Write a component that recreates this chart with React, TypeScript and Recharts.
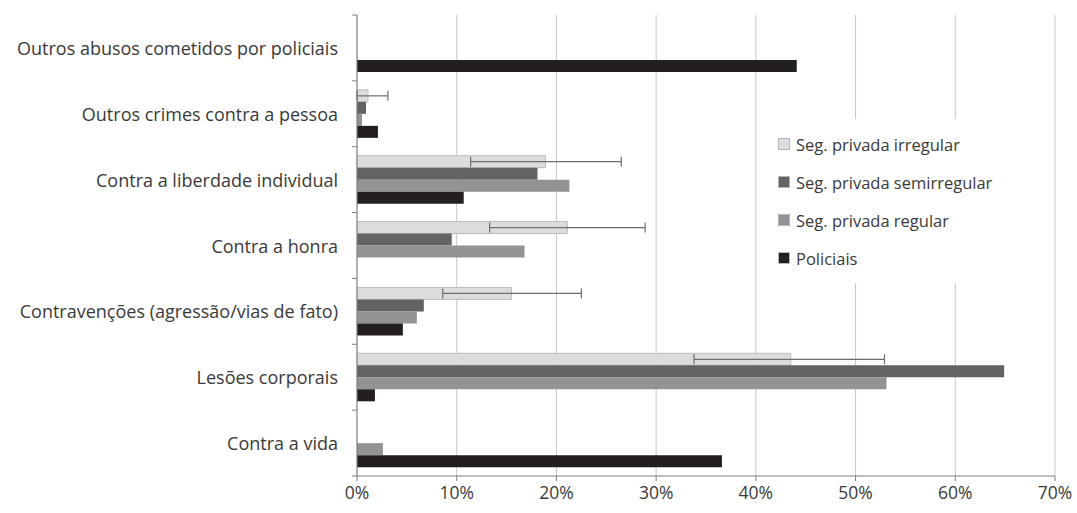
import { Bar, BarChart, CartesianGrid, ErrorBar, Legend, XAxis, YAxis } from 'recharts';

const categories = [
  'Outros abusos cometidos por policiais',
  'Outros crimes contra a pessoa',
  'Contra a liberdade individual',
  'Contra a honra',
  'Contravenções (agressão/vias de fato)',
  'Lesões corporais',
  'Contra a vida',
];

// values in %
const irregular = [0, 1.1, 18.9, 21.1, 15.5, 43.5, 0];
const irregularLow = [0, 0, 11.4, 13.3, 8.6, 33.8, 0];
const irregularHigh = [0, 3.1, 26.5, 28.9, 22.5, 52.9, 0];
const semirregular = [0, 0.9, 18.1, 9.5, 6.7, 64.9, 0];
const regular = [0, 0.5, 21.3, 16.8, 6.0, 53.1, 2.6];
const policiais = [44.1, 2.1, 10.7, 0, 4.6, 1.8, 36.6];

const xTicks = [0, 10, 20, 30, 40, 50, 60, 70];

const seriesNames = ['Seg. privada irregular', 'Seg. privada semirregular', 'Seg. privada regular', 'Policiais'];
const seriesColors = ['#dcdcdf', '#636365', '#939396', '#231f20'];

const data = categories.map((name, i) => ({
  name,
  irregular: irregular[i],
  irregularErr: [irregular[i] - irregularLow[i], irregularHigh[i] - irregular[i]],
  semirregular: semirregular[i],
  regular: regular[i],
  policiais: policiais[i],
}));

const textColor = '#3a3a3a';
const axisColor = '#7f7f7f';

function CategoryTick(props: any) {
  const { x, y, payload, index } = props;
  const half = payload?.offset ?? 33;
  const axisX = x + 19;
  return (
    <g>
      <line x1={axisX - 5} x2={axisX} y1={y - half} y2={y - half} stroke={axisColor} />
      {index === categories.length - 1 && (
        <line x1={axisX - 5} x2={axisX} y1={y + half} y2={y + half} stroke={axisColor} />
      )}
      <text x={x} y={y} textAnchor="end" dominantBaseline="central" fill={textColor} fontSize={18}>
        {payload.value}
      </text>
    </g>
  );
}

function LegendBox() {
  return (
    <div style={{ background: '#fff', padding: '6px 8px' }}>
      {seriesNames.map((name, i) => (
        <div
          key={name}
          style={{ display: 'flex', alignItems: 'center', height: 38, fontSize: 16.5, color: textColor }}
        >
          <span
            style={{
              display: 'inline-block',
              width: 12,
              height: 12,
              background: seriesColors[i],
              border: '1px solid #b5b5b5',
              boxSizing: 'border-box',
              marginRight: 6,
            }}
          />
          {name}
        </div>
      ))}
    </div>
  );
}

export default function App() {
  return (
    <div style={{ position: 'absolute', left: 0, top: 0, background: '#fff', fontFamily: 'Open Sans' }}>
      <BarChart
        width={1077}
        height={513}
        data={data}
        layout="vertical"
        margin={{ top: 15, right: 22, bottom: 0, left: 0 }}
        barSize={12}
        barGap={0}
      >
        <CartesianGrid horizontal={false} stroke="#c8c8c8" />
        <XAxis
          type="number"
          domain={[0, 70]}
          ticks={xTicks}
          tickFormatter={(v: number) => `${v}%`}
          height={37}
          axisLine={{ stroke: axisColor }}
          tickLine={{ stroke: axisColor }}
          tickSize={5}
          tickMargin={6}
          tick={{ fill: textColor, fontSize: 17.5 }}
          interval={0}
        />
        <YAxis
          type="category"
          dataKey="name"
          width={357}
          axisLine={{ stroke: axisColor }}
          tickLine={false}
          tickSize={5}
          tickMargin={14}
          tick={<CategoryTick />}
          interval={0}
        />
        <Legend
          layout="vertical"
          align="center"
          verticalAlign="middle"
          content={<LegendBox />}
          wrapperStyle={{ left: 770, top: 119, width: 235 }}
        />
        <Bar dataKey="irregular" name={seriesNames[0]} fill={seriesColors[0]} stroke="#bdbdbd" isAnimationActive={false}>
          <ErrorBar dataKey="irregularErr" direction="x" width={5} stroke="#6e6e6e" strokeWidth={1.2} />
        </Bar>
        <Bar dataKey="semirregular" name={seriesNames[1]} fill={seriesColors[1]} isAnimationActive={false} />
        <Bar dataKey="regular" name={seriesNames[2]} fill={seriesColors[2]} isAnimationActive={false} />
        <Bar dataKey="policiais" name={seriesNames[3]} fill={seriesColors[3]} isAnimationActive={false} />
      </BarChart>
    </div>
  );
}
